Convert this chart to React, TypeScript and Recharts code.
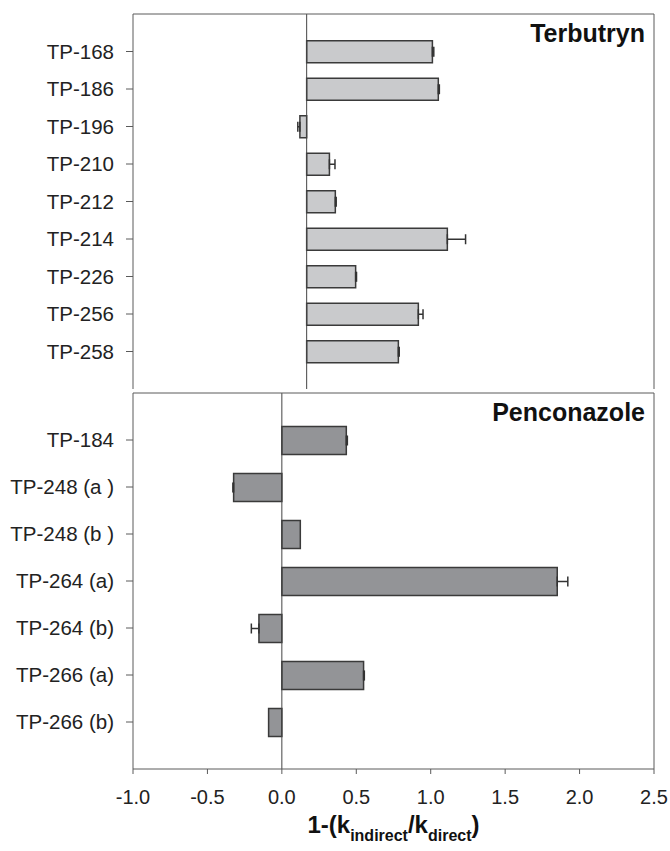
import { Bar, BarChart, ErrorBar, ReferenceLine, XAxis, YAxis } from "recharts";

// Terbutryn transformation products (upper panel, own hidden x scale -1..2)
const terbutrynNames = [
  "TP-168",
  "TP-186",
  "TP-196",
  "TP-210",
  "TP-212",
  "TP-214",
  "TP-226",
  "TP-256",
  "TP-258",
];
const terbutrynValues = [0.724, 0.758, -0.039, 0.131, 0.165, 0.81, 0.282, 0.643, 0.528];
const terbutrynErrors = [0.008, 0.006, 0.012, 0.032, 0.005, 0.105, 0.005, 0.027, 0.005];

// Penconazole transformation products (lower panel, shared visible x axis)
const penconazoleNames = [
  "TP-184",
  "TP-248 (a )",
  "TP-248 (b )",
  "TP-264 (a)",
  "TP-264 (b)",
  "TP-266 (a)",
  "TP-266 (b)",
];
const penconazoleValues = [0.433, -0.324, 0.124, 1.85, -0.154, 0.549, -0.089];
const penconazoleErrors = [0.007, 0.005, 0, 0.071, 0.051, 0.005, 0];

const xTicks = [-1, -0.5, 0, 0.5, 1, 1.5, 2, 2.5];

const FONT = "'Liberation Sans', Arial, sans-serif";
const FRAME = "#5a5a5a";
const TEXT = "#222";
const EDGE = "#3a3a3a";

// one-sided error: only the half pointing away from zero is drawn
const rows = (names: string[], values: number[], errors: number[]) =>
  names.map((name, i) => ({
    name,
    value: values[i],
    err: errors[i] ? (values[i] >= 0 ? [0, errors[i]] : [errors[i], 0]) : null,
  }));

const terbutrynData = rows(terbutrynNames, terbutrynValues, terbutrynErrors);
const penconazoleData = rows(penconazoleNames, penconazoleValues, penconazoleErrors);

// panel name, right-aligned inside the top-right corner of the frame
const panelTitle = (title: string) => (props: any) => {
  const { viewBox } = props;
  return (
    <text
      x={viewBox.x - 9}
      y={viewBox.y + 28}
      textAnchor="end"
      fontFamily={FONT}
      fontWeight="bold"
      fontSize={25}
      fill="#111"
    >
      {title}
    </text>
  );
};

const AxisTitle = (props: any) => {
  const { viewBox } = props;
  return (
    <text
      x={viewBox.x + viewBox.width / 2}
      y={viewBox.y + 64}
      textAnchor="middle"
      fontFamily={FONT}
      fontWeight="bold"
      fontSize={24}
      fill="#111"
    >
      1-(k
      <tspan fontSize={16} dy={8}>
        indirect
      </tspan>
      <tspan dy={-8}>/k</tspan>
      <tspan fontSize={16} dy={8}>
        direct
      </tspan>
      <tspan dy={-8}>)</tspan>
    </text>
  );
};

const catTick = { fontSize: 20.5, fill: TEXT, fontFamily: FONT };

// thin top / right axes that only draw the frame edges
const frameAxes = (domain: number[], title: string) => [
  <XAxis
    key="fx"
    xAxisId="frame"
    orientation="top"
    type="number"
    domain={domain}
    height={1}
    tick={false}
    tickLine={false}
    axisLine={{ stroke: FRAME }}
  />,
  <YAxis
    key="fy"
    yAxisId="frame"
    orientation="right"
    type="category"
    dataKey="name"
    width={1}
    tick={false}
    tickLine={false}
    axisLine={{ stroke: FRAME }}
    label={{ content: panelTitle(title) }}
  />,
];

export default function App() {
  return (
    <div
      style={{
        position: "absolute",
        left: 0,
        top: 0,
        width: 670,
        height: 851,
        background: "#fff",
      }}
    >
      <div style={{ position: "absolute", left: 0, top: 0 }}>
        <BarChart
          width={670}
          height={390}
          layout="vertical"
          data={terbutrynData}
          margin={{ top: 13, right: 15, bottom: 1, left: 0 }}
          barCategoryGap={0}
        >
          <XAxis xAxisId="v" type="number" domain={[-1, 2]} hide />
          {frameAxes([-1, 2], "Terbutryn")}
          <YAxis
            yAxisId="cat"
            type="category"
            dataKey="name"
            width={133}
            padding={{ top: 18.75, bottom: 18.75 }}
            axisLine={{ stroke: FRAME }}
            tickLine={{ stroke: FRAME }}
            tickSize={7}
            tickMargin={12}
            tick={catTick}
            interval={0}
          />
          <ReferenceLine xAxisId="v" yAxisId="cat" x={0} stroke="#444" />
          <Bar
            xAxisId="v"
            yAxisId="cat"
            dataKey="value"
            barSize={22}
            fill="#c9cacc"
            stroke={EDGE}
            strokeWidth={1.5}
            isAnimationActive={false}
          >
            <ErrorBar
              dataKey="err"
              direction="x"
              width={5}
              stroke="#333"
              strokeWidth={1.5}
              isAnimationActive={false}
            />
          </Bar>
        </BarChart>
      </div>

      <div style={{ position: "absolute", left: 0, top: 392 }}>
        <BarChart
          width={670}
          height={459}
          layout="vertical"
          data={penconazoleData}
          margin={{ top: 0, right: 15, bottom: 0, left: 0 }}
          barCategoryGap={0}
        >
          <XAxis
            xAxisId="v"
            type="number"
            domain={[-1, 2.5]}
            ticks={xTicks}
            tickFormatter={(v: number) => v.toFixed(1)}
            height={82}
            axisLine={{ stroke: FRAME }}
            tickLine={{ stroke: FRAME }}
            tickSize={5}
            tickMargin={16}
            tick={{ fontSize: 20, fill: TEXT, fontFamily: FONT }}
            interval={0}
            label={{ content: AxisTitle }}
          />
          {frameAxes([-1, 2.5], "Penconazole")}
          <YAxis
            yAxisId="cat"
            type="category"
            dataKey="name"
            width={133}
            padding={{ top: 23.5, bottom: 23.5 }}
            axisLine={{ stroke: FRAME }}
            tickLine={{ stroke: FRAME }}
            tickSize={7}
            tickMargin={12}
            tick={catTick}
            interval={0}
          />
          <ReferenceLine xAxisId="v" yAxisId="cat" x={0} stroke="#444" />
          <Bar
            xAxisId="v"
            yAxisId="cat"
            dataKey="value"
            barSize={28}
            fill="#939497"
            stroke={EDGE}
            strokeWidth={1.5}
            isAnimationActive={false}
          >
            <ErrorBar
              dataKey="err"
              direction="x"
              width={5}
              stroke="#333"
              strokeWidth={1.5}
              isAnimationActive={false}
            />
          </Bar>
        </BarChart>
      </div>
    </div>
  );
}
